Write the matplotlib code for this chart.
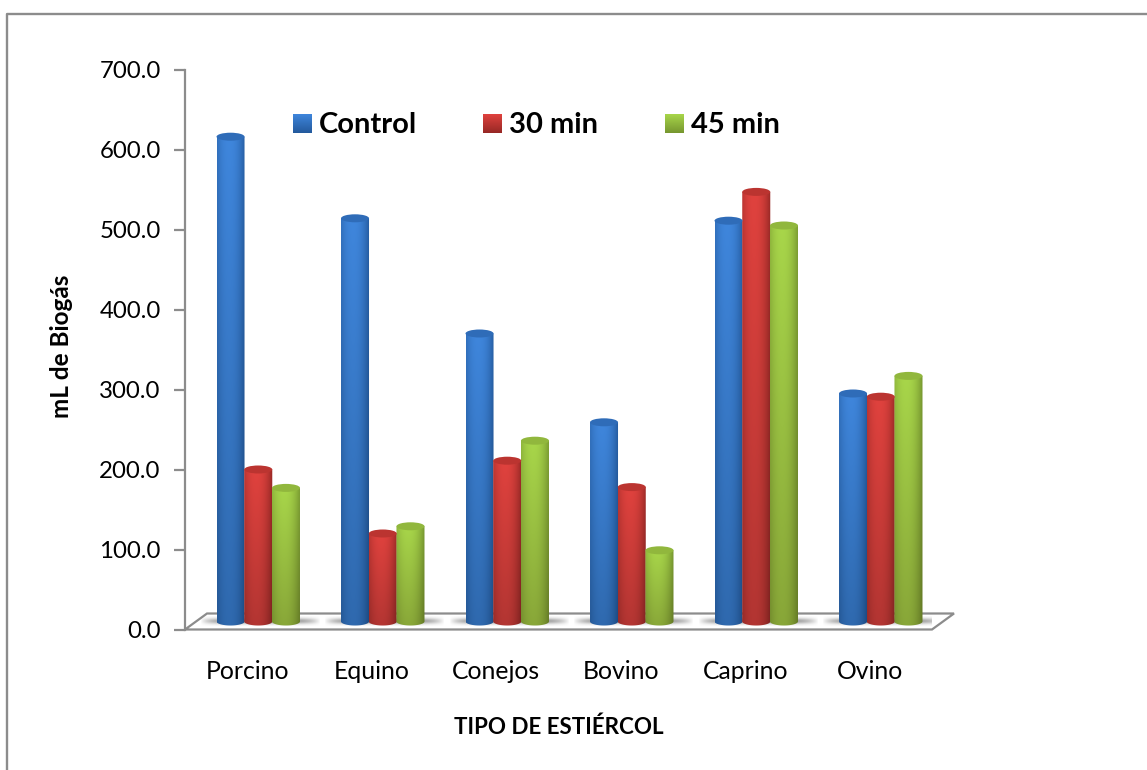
import numpy as np
import matplotlib
matplotlib.use('Agg')
import matplotlib.pyplot as plt
from matplotlib.lines import Line2D
from matplotlib.patches import Polygon, Ellipse
from matplotlib.path import Path

categorias = ['Porcino', 'Equino', 'Conejos', 'Bovino', 'Caprino', 'Ovino']
series = ['Control', '30 min', '45 min']
control = [606, 504, 360, 249, 501, 285]
min30 = [190, 110, 201, 168, 537, 281]
min45 = [167, 119, 226, 89, 495, 307]
yTicks = [0, 100, 200, 300, 400, 500, 600, 700]

# (brillo, borde, base, tapa) de cada serie
cores = [
    ('#3f86dc', '#23599c', '#2f69ae', '#2f6cb8'),
    ('#e0423e', '#962825', '#b23532', '#bb3430'),
    ('#a8d64a', '#76962f', '#88a638', '#91b73d'),
]

cinza = '#8c8c8c'
largura = 0.225
baseY = 10
alturaTapa = 10
deslocX = 11 / 124.5
fundoX = 22 / 124.5
fundoY = 20

plt.rcParams['font.family'] = ['Lato', 'DejaVu Sans']


def hexRgb(c):
    return np.array(matplotlib.colors.to_rgb(c))


def gradienteCilindro(brilho, borda, base):
    u = np.linspace(0, 1, 60)
    v = np.linspace(0, 1, 200)[:, None]
    perfil = np.clip(1 - (np.abs(u - 0.42) / 0.58) ** 2.2, 0, 1)[:, None]
    topo = hexRgb(borda) + (hexRgb(brilho) - hexRgb(borda)) * perfil
    fim = topo * hexRgb(base) / hexRgb(brilho)
    return topo[None, :, :] * (1 - v[:, :, None]) + fim[None, :, :] * v[:, :, None]


def desenhaCilindro(ax, x, valor, cor):
    brilho, borda, base, tapa = cor
    esq = x - largura / 2
    dir = x + largura / 2
    yTopo = baseY + valor
    t = np.linspace(np.pi, 2 * np.pi, 30)
    fundo = np.column_stack([x + largura / 2 * np.cos(t), baseY + alturaTapa / 2 * np.sin(t)])
    contorno = np.vstack([fundo, [[dir, yTopo], [esq, yTopo]]])
    img = ax.imshow(gradienteCilindro(brilho, borda, base), extent=[esq, dir, baseY - alturaTapa, yTopo],
                    aspect='auto', origin='upper', zorder=4, interpolation='bilinear')
    img.set_clip_path(Path(contorno), ax.transData)
    ax.add_patch(Ellipse((x, yTopo), largura, alturaTapa, facecolor=tapa, edgecolor='none', zorder=4.1))


def desenhaSombra(ax, centro):
    x = np.linspace(-1, 1, 120)
    y = np.linspace(-1, 1, 30)[:, None]
    alfa = np.exp(-(y * 1.7) ** 2) * np.clip(1 - np.abs(x) ** 5, 0, 1) * 0.8
    rgba = np.zeros((30, 120, 4))
    rgba[:, :, :3] = 0.5
    rgba[:, :, 3] = alfa
    ax.imshow(rgba, extent=[centro - 0.47, centro + 0.5, baseY - 6, baseY + 6], aspect='auto', zorder=3)


fig = plt.figure(figsize=(11.47, 7.7), dpi=100)
ax = fig.add_axes([185 / 1147, (770 - 629.5) / 770, 747 / 1147, 560 / 770])

# moldura do quadro (so em cima e na esquerda)
fig.add_artist(Line2D([6.5 / 1147, 6.5 / 1147, 1], [0, 1 - 14 / 770, 1 - 14 / 770], color=cinza, lw=1.7))

# piso
ax.add_patch(Polygon([(0, 0), (6, 0), (6 + fundoX, fundoY), (fundoX, fundoY)], closed=True, facecolor='white',
                     edgecolor=cinza, lw=1.6, clip_on=False, zorder=2))

valores = [control, min30, min45]
for i in range(len(categorias)):
    centro = i + 0.5 + deslocX
    desenhaSombra(ax, centro)
    for j in range(len(series)):
        desenhaCilindro(ax, centro + (j - 1) * largura * 0.99, valores[j][i], cores[j])

# legenda
legendaX = [0.868, 2.394, 3.855]
for j in range(len(series)):
    x0 = legendaX[j]
    ax.imshow(gradienteCilindro(cores[j][0], cores[j][0], cores[j][1])[:, 30:31], extent=[x0, x0 + 0.152, 620, 643],
              aspect='auto', zorder=5)
    ax.text(x0 + 0.21, 631, series[j], fontsize=21, fontweight='bold', va='center', ha='left', color='black')

ax.set_xlim(0, 6)
ax.set_ylim(0, 700)
ax.set_xticks(np.arange(len(categorias)) + 0.5)
ax.set_xticklabels(categorias)
ax.set_yticks(yTicks)
ax.set_yticklabels(['%.1f' % v for v in yTicks])
ax.tick_params(axis='x', length=0, pad=22, labelsize=17.8)
ax.tick_params(axis='y', length=8, width=1.6, color=cinza, pad=9.5, labelsize=17.3)
for lado in ['top', 'right', 'bottom']:
    ax.spines[lado].set_visible(False)
ax.spines['left'].set_color(cinza)
ax.spines['left'].set_linewidth(1.6)
ax.patch.set_alpha(0)

ax.set_xlabel('TIPO DE ESTIÉRCOL', fontsize=16.1, fontweight='bold', labelpad=24)
ax.set_ylabel('mL de Biogás', fontsize=17.5, fontweight='bold')
ax.yaxis.set_label_coords((73 - 185) / 747, 0.505)

fig.savefig('out.png', dpi=100)
